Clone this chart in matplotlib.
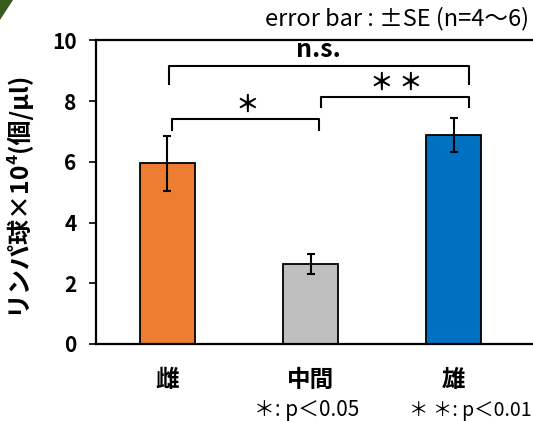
import numpy as np
import matplotlib
matplotlib.use('Agg')
import matplotlib.pyplot as plt
from matplotlib.patches import Polygon

plt.rcParams['font.family'] = ['Noto Sans CJK JP', 'DejaVu Sans']

# data
groups = ['雌', '中間', '雄']
means = [5.95, 2.64, 6.88]
se = [0.90, 0.32, 0.55]
colors = ['#ED7D31', '#BFBFBF', '#0070C0']

# significance brackets: (left, right, height, drop, label)
brackets = [(0, 1, 7.41, 7.05, '＊'),
            (1, 2, 8.15, 7.81, '＊ ＊'),
            (0, 2, 9.16, 8.55, 'n.s.')]

fig = plt.figure(figsize=(5.33, 4.21), dpi=100)
ax = fig.add_axes([0.180, 0.183, 0.832, 0.721])

x = np.arange(len(groups))
ax.bar(x, means, width=0.385, color=colors, edgecolor='black', linewidth=1.3, zorder=2)
ax.errorbar(x, means, yerr=se, fmt='none', ecolor='black', elinewidth=1.5,
            capsize=3, capthick=1.5, zorder=3)

# brackets
offs = {(0, 1): (0.035, 0.056), (1, 2): (0.07, 0.11), (0, 2): (0.014, 0.11)}
for l, r, h, d, lab in brackets:
    xl = x[l] + offs[(l, r)][0]
    xr = x[r] + offs[(l, r)][1]
    ax.plot([xl, xl, xr, xr], [d, h, h, d], color='black', lw=1.5,
            solid_joinstyle='round', zorder=4)
    if lab == 'n.s.':
        ax.text((xl + xr) / 2 - 0.01, h + 0.12, lab, ha='center', va='bottom',
                fontsize=18, fontweight='bold')
    else:
        ax.text((xl + xr) / 2 + 0.01, h + 0.06, lab, ha='center', va='bottom',
                fontsize=17, fontweight='bold')

ax.set_xlim(-0.5, 2.6)
ax.set_ylim(0, 10)
ax.set_yticks([0, 2, 4, 6, 8, 10])
ax.set_xticks(x)
ax.set_xticklabels(groups, fontsize=17, fontweight='bold')
for t in ax.get_yticklabels():
    t.set_fontweight('bold')
ax.tick_params(axis='y', labelsize=15, length=5, width=1.2, pad=9)
ax.tick_params(axis='x', length=0, pad=17)

for s in ['left', 'top', 'bottom', 'right']:
    ax.spines[s].set_linewidth(1.6)

ax.set_ylabel('リンパ球×10⁴(個/μl)', fontsize=18, fontweight='bold')
ax.yaxis.set_label_coords(-0.15, 0.5)

fig.text(0.992, 0.955, 'error bar : ±SE (n=4～6)', ha='right', va='center', fontsize=17)
fig.text(0.576, 0.026, '＊: p＜0.05', ha='center', va='center', fontsize=15)
fig.text(0.997, 0.026, '＊ ＊: p＜0.01', ha='right', va='center', fontsize=14)

# green corner decoration
fig.patches.append(Polygon([[0, 1], [13 / 533, 1], [0, 1 - 20 / 421]], closed=True,
                           transform=fig.transFigure, facecolor='#3b5a1e',
                           edgecolor='none'))

fig.savefig('out.png', dpi=100)
